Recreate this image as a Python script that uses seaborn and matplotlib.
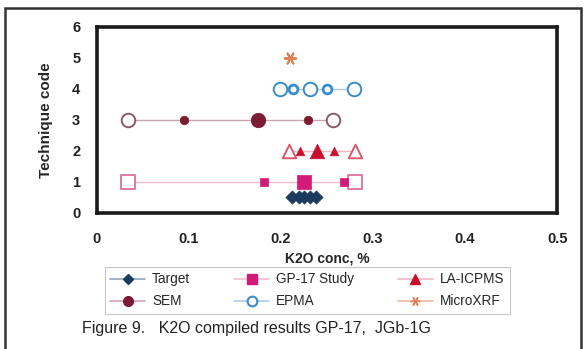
import pandas as pd
import matplotlib.pyplot as plt
import seaborn as sns
from matplotlib.lines import Line2D
from matplotlib.patches import Rectangle

# Values (K2O %), per technique: min, mean-sd, mean, mean+sd, max
techniques = ["Target", "GP-17 Study", "LA-ICPMS", "SEM", "EPMA", "MicroXRF"]
codes = [0.5, 1, 2, 3, 4, 5]
target_x = [0.212, 0.219, 0.225, 0.232, 0.238]
gp17_x = [0.034, 0.181, 0.225, 0.268, 0.280]
laicpms_x = [0.209, 0.221, 0.239, 0.258, 0.280]
sem_x = [0.034, 0.095, 0.175, 0.229, 0.257]
epma_x = [0.199, 0.213, 0.232, 0.250, 0.279]
microxrf_x = [0.210]
kinds = ["min", "lo", "mean", "hi", "max"]

colors = {"Target": "#1b3a5e", "GP-17 Study": "#d21a78", "LA-ICPMS": "#c8102e",
          "SEM": "#7a1c34", "EPMA": "#3a8cc8", "MicroXRF": "#e0805a"}
line_colors = {"Target": "#8fa3bf", "GP-17 Study": "#f2bcd0", "LA-ICPMS": "#f2b8c0",
               "SEM": "#c9a7b0", "EPMA": "#aacdea", "MicroXRF": "#f0b8a0"}
open_edges = {"GP-17 Study": "#e07aa5", "LA-ICPMS": "#d85a6a", "SEM": "#8a5c64", "EPMA": "#3a8cc8"}
markers = {"Target": "D", "GP-17 Study": "s", "LA-ICPMS": "^", "SEM": "o", "EPMA": "o",
           "MicroXRF": (6, 2, 30)}

rows = []
for tech, code, xs in zip(techniques, codes,
                          [target_x, gp17_x, laicpms_x, sem_x, epma_x, microxrf_x]):
    for k, x in zip(kinds, xs):
        rows.append({"technique": tech, "code": code, "K2O": x, "kind": k})
df = pd.DataFrame(rows)

sns.set_style("white")
plt.rcParams["font.family"] = ["Liberation Sans", "DejaVu Sans"]

fig = plt.figure(figsize=(5.84, 3.49), dpi=100, facecolor="white")
ax = fig.add_axes([0.166, 0.39, 0.788, 0.533])

# connecting lines
sns.lineplot(data=df, x="K2O", y="code", hue="technique", palette=line_colors,
             estimator=None, sort=True, legend=False, linewidth=1.0, ax=ax)

# markers
for tech in techniques:
    sub = df[df.technique == tech]
    m = markers[tech]
    c = colors[tech]
    if tech == "Target":
        sns.scatterplot(data=sub, x="K2O", y="code", marker=m, s=45, color=c,
                        edgecolor=c, linewidth=0.5, ax=ax, zorder=3)
        continue
    if tech == "MicroXRF":
        sns.scatterplot(data=sub, x="K2O", y="code", marker=m, s=70, color=c,
                        linewidth=1.4, ax=ax, zorder=3)
        continue
    ends = sub[sub.kind.isin(["min", "max"])]
    mids = sub[sub.kind.isin(["lo", "hi"])]
    mean = sub[sub.kind == "mean"]
    sns.scatterplot(data=ends, x="K2O", y="code", marker=m, s=95, facecolor="white",
                    edgecolor=open_edges[tech], linewidth=1.4, ax=ax, zorder=3)
    if tech == "EPMA":
        sns.scatterplot(data=mids, x="K2O", y="code", marker=m, s=40, facecolor="white",
                        edgecolor=c, linewidth=2.0, ax=ax, zorder=3)
        sns.scatterplot(data=mean, x="K2O", y="code", marker=m, s=95, facecolor="white",
                        edgecolor=c, linewidth=1.4, ax=ax, zorder=3)
    else:
        sns.scatterplot(data=mids, x="K2O", y="code", marker=m, s=38, color=c,
                        edgecolor=c, linewidth=0.5, ax=ax, zorder=3)
        sns.scatterplot(data=mean, x="K2O", y="code", marker=m, s=110, color=c,
                        edgecolor=c, linewidth=0.5, ax=ax, zorder=3)

ax.set_xlim(0, 0.5)
ax.set_ylim(0, 6)
ax.set_xticks([0, 0.1, 0.2, 0.3, 0.4, 0.5])
ax.set_xticklabels(["0", "0.1", "0.2", "0.3", "0.4", "0.5"])
ax.set_yticks(range(7))
ax.tick_params(length=0, labelsize=10.5)
ax.tick_params(axis="x", pad=14)
ax.tick_params(axis="y", pad=12)
for lab in ax.get_xticklabels() + ax.get_yticklabels():
    lab.set_fontweight("bold")
    lab.set_color("#222222")
ax.set_xlabel("K2O conc, %", fontsize=10, fontweight="bold", labelpad=4)
ax.set_ylabel("Technique code", fontsize=11, fontweight="bold", labelpad=14)
for sp in ax.spines.values():
    sp.set_linewidth(2.6)
    sp.set_color("#1a1a1a")

# legend
handles = []
for tech in ["Target", "SEM", "GP-17 Study", "EPMA", "LA-ICPMS", "MicroXRF"]:
    c = colors[tech]
    fc = "white" if tech == "EPMA" else c
    handles.append(Line2D([], [], color=line_colors[tech], lw=1.2, marker=markers[tech],
                          markersize=7 if tech != "Target" else 5, markerfacecolor=fc,
                          markeredgecolor=c, markeredgewidth=1.5 if tech == "EPMA" else 1,
                          label=tech))
leg = fig.legend(handles=handles, loc="center", bbox_to_anchor=(0.526, 0.168), ncol=3,
                 fontsize=9.8, frameon=True, fancybox=False, edgecolor="#b8b8b8",
                 columnspacing=3.2, handlelength=2.6, handletextpad=0.5,
                 borderpad=0.4, labelspacing=0.6)
leg.get_frame().set_linewidth(0.8)

fig.text(0.44, 0.06, "Figure 9.   K2O compiled results GP-17,  JGb-1G", ha="center",
         va="center", fontsize=11.5, color="#222222")

# outer frame of the figure panel
fig.patches.append(Rectangle((0.009, -0.05), 0.986, 1.027, transform=fig.transFigure,
                             fill=False, edgecolor="#333333", linewidth=1.8, clip_on=False))

plt.savefig("out.png", dpi=100, facecolor=fig.get_facecolor())
